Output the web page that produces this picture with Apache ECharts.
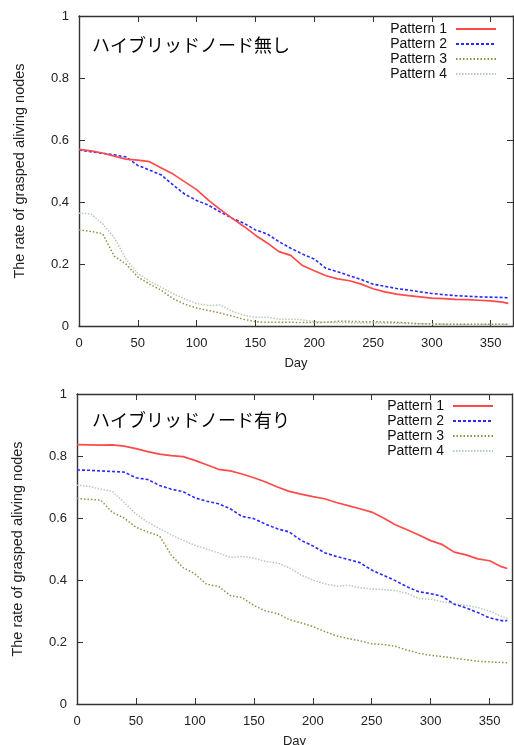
<!DOCTYPE html>
<html>
<head>
<meta charset="utf-8">
<script src="https://cdn.jsdelivr.net/npm/echarts@6/dist/echarts.min.js"></script>
<style>
html,body{margin:0;padding:0;background:#fff;overflow:hidden;}
#c{width:514px;height:745px;}
</style>
</head>
<body>
<div id="c"></div>
<script>
var days = [0,10,20,30,40,50,60,70,80,90,100,110,120,130,140,150,160,170,180,190,200,210,220,230,240,250,260,270,280,290,300,310,320,330,340,350,360,365];
var seriesNames = ['Pattern 1','Pattern 2','Pattern 3','Pattern 4'];
var xTicks = [0,50,100,150,200,250,300,350];
var yTicks = [0,0.2,0.4,0.6,0.8,1];
var titleTop = 'ハイブリッドノード無し';
var titleBottom = 'ハイブリッドノード有り';
var xName = 'Day';
var yName = 'The rate of grasped aliving nodes';

// Without hybrid nodes (top)
var top1 = [0.570,0.565,0.558,0.548,0.538,0.535,0.530,0.510,0.490,0.465,0.440,0.406,0.376,0.348,0.322,0.293,0.268,0.240,0.228,0.195,0.178,0.162,0.152,0.146,0.135,0.120,0.110,0.103,0.098,0.094,0.090,0.088,0.086,0.085,0.083,0.081,0.077,0.073];
var top2 = [0.568,0.562,0.557,0.552,0.545,0.518,0.503,0.487,0.455,0.425,0.405,0.390,0.368,0.348,0.332,0.310,0.297,0.272,0.251,0.232,0.216,0.186,0.175,0.162,0.150,0.135,0.128,0.121,0.116,0.110,0.105,0.101,0.098,0.096,0.094,0.093,0.092,0.091];
var top3 = [0.310,0.305,0.298,0.225,0.200,0.158,0.135,0.115,0.088,0.070,0.058,0.050,0.042,0.032,0.022,0.014,0.012,0.012,0.012,0.011,0.011,0.012,0.015,0.015,0.014,0.014,0.013,0.012,0.010,0.007,0.007,0.006,0.006,0.006,0.006,0.006,0.006,0.006];
var top4 = [0.364,0.362,0.330,0.285,0.215,0.170,0.145,0.125,0.104,0.088,0.072,0.066,0.068,0.048,0.035,0.028,0.028,0.022,0.022,0.020,0.014,0.012,0.011,0.010,0.010,0.010,0.009,0.009,0.008,0.007,0.006,0.006,0.005,0.005,0.005,0.005,0.005,0.005];

// With hybrid nodes (bottom)
var bot1 = [0.837,0.836,0.835,0.836,0.832,0.824,0.814,0.806,0.801,0.798,0.786,0.772,0.757,0.752,0.742,0.730,0.716,0.700,0.686,0.677,0.669,0.662,0.650,0.640,0.630,0.619,0.600,0.578,0.562,0.545,0.527,0.514,0.490,0.481,0.468,0.462,0.443,0.437];
var bot2 = [0.755,0.754,0.752,0.750,0.748,0.730,0.724,0.705,0.693,0.685,0.665,0.654,0.646,0.630,0.605,0.598,0.580,0.565,0.555,0.528,0.510,0.488,0.476,0.466,0.456,0.432,0.415,0.398,0.378,0.362,0.356,0.347,0.322,0.310,0.295,0.278,0.269,0.269];
var bot3 = [0.663,0.660,0.658,0.618,0.600,0.570,0.555,0.542,0.480,0.440,0.420,0.386,0.380,0.350,0.343,0.318,0.300,0.292,0.272,0.262,0.250,0.234,0.220,0.211,0.204,0.194,0.192,0.186,0.174,0.164,0.157,0.153,0.148,0.143,0.138,0.136,0.134,0.133];
var bot4 = [0.706,0.702,0.693,0.686,0.650,0.613,0.586,0.566,0.545,0.528,0.512,0.500,0.487,0.473,0.476,0.470,0.460,0.455,0.440,0.416,0.400,0.388,0.380,0.383,0.375,0.371,0.369,0.366,0.357,0.340,0.338,0.330,0.323,0.318,0.311,0.300,0.283,0.276];

var FONT = 'Liberation Sans, Arial, sans-serif';
var styles = [
  {color:'#ff4a4a', width:1.7, type:'solid'},
  {color:'#2a2aff', width:1.6, type:[3,2]},
  {color:'#8f8f45', width:1.5, type:[1.5,2]},
  {color:'#b4cdb4', width:1.5, type:[1.5,1.5]}
];

function pairs(vals){ return days.map(function(d,i){ return [d, vals[i]]; }); }

function mkSeries(list, xi, yi){
  return list.map(function(vals, k){
    return {
      name: seriesNames[k], type:'line', xAxisIndex:xi, yAxisIndex:yi,
      data: pairs(vals), symbol:'none', showSymbol:false, animation:false,
      lineStyle: styles[k], itemStyle:{color:styles[k].color}, z: 10 - k
    };
  });
}

var axisLineStyle = {show:true, onZero:false, lineStyle:{color:'#333', width:1.4}};
var tickStyle = {show:true, inside:true, length:6, lineStyle:{color:'#333', width:1}};

function xAx(grid, pos, labels){
  return {
    type:'value', gridIndex:grid, position:pos, min:0, max:369, interval:50,
    axisLine: axisLineStyle, axisTick: tickStyle, splitLine:{show:false},
    axisLabel: {show:labels, fontSize:13, color:'#222', fontFamily:FONT, margin:11, showMaxLabel:false,
      formatter:function(v){ return xTicks.indexOf(v) >= 0 ? String(v) : ''; }},
    name: labels ? xName : '', nameLocation:'middle', nameGap:31,
    nameTextStyle:{fontSize:13, color:'#222', fontFamily:FONT}
  };
}
function yAx(grid, pos, labels){
  return {
    type:'value', gridIndex:grid, position:pos, min:0, max:1, interval:0.2,
    axisLine: axisLineStyle, axisTick: tickStyle, splitLine:{show:false},
    axisLabel: {show:labels, fontSize:13, color:'#222', fontFamily:FONT, margin:10,
      formatter:function(v){ var r = Math.round(v*10)/10; return yTicks.indexOf(r) >= 0 ? String(r) : ''; }},
    name: labels ? yName : '', nameLocation:'middle', nameGap:52, nameRotate:90,
    nameTextStyle:{fontSize:14.5, color:'#222', fontFamily:FONT}
  };
}

function legendCfg(right, top){
  return {
    orient:'vertical', right:right, top:top, align:'right',
    itemWidth:40, itemHeight:10, itemGap:1, padding:0,
    itemStyle:{opacity:0},
    textStyle:{fontSize:14, color:'#111', fontFamily:FONT, lineHeight:14, padding:[0,4,0,0]},
    data: seriesNames.slice()
  };
}

var chart = echarts.init(document.getElementById('c'), null, {renderer:'canvas'});
chart.setOption({
  backgroundColor:'#fff',
  animation:false,
  title:[
    {text:titleTop, left:92, top:36, padding:0, textStyle:{fontSize:18, fontWeight:'normal', color:'#000', fontFamily:'Noto Sans CJK JP'}},
    {text:titleBottom, left:92, top:411, padding:0, textStyle:{fontSize:18, fontWeight:'normal', color:'#000', fontFamily:'Noto Sans CJK JP'}}
  ],
  legend:[legendCfg(17, 22), legendCfg(20, 399)],
  grid:[
    {left:79, top:16, right:1, bottom:419, outerBoundsMode:'none', containLabel:false},
    {left:77, top:394, right:2, bottom:41, outerBoundsMode:'none', containLabel:false}
  ],
  xAxis:[xAx(0,'bottom',true), xAx(0,'top',false), xAx(1,'bottom',true), xAx(1,'top',false)],
  yAxis:[yAx(0,'left',true), yAx(0,'right',false), yAx(1,'left',true), yAx(1,'right',false)],
  series: mkSeries([top1,top2,top3,top4],0,0).concat(mkSeries([bot1,bot2,bot3,bot4],2,2))
});
</script>
</body>
</html>
